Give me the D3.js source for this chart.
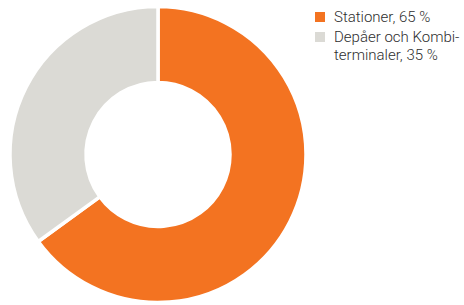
<!DOCTYPE html>
<html>
<head>
<meta charset="utf-8">
<script src="https://cdn.jsdelivr.net/npm/d3@7"></script>
<style>
  body { margin: 0; background: white; }
  .legend text { font-family: Roboto, "Liberation Sans", sans-serif; font-size: 15px; font-weight: 300; fill: #2e2e2e; }
</style>
</head>
<body>
<div id="chart"></div>
<script>
// Andel per typ av anläggning
const categories = ["Stationer", "Depåer och Kombiterminaler"];
const values = [65, 35];
const legendLines = [["Stationer, 65 %"], ["Depåer och Kombi-", "terminaler, 35 %"]];
const colors = ["#f37321", "#dbdad5"];

let svg = d3.select("#chart").append("svg")
  .attr("width", 464)
  .attr("height", 305);

let center = { x: 158, y: 154.5 };
let outer = 148, inner = 72;

let pie = d3.pie().sort(null).value(d => d);
let arc = d3.arc().innerRadius(inner).outerRadius(outer);

let donut = svg.append("g")
  .attr("transform", "translate(" + center.x + "," + center.y + ")");

donut.selectAll("path")
  .data(pie(values))
  .enter().append("path")
    .attr("d", arc)
    .attr("fill", (d, i) => colors[i])
    .attr("stroke", "white")
    .attr("stroke-width", 3.5);

// Legend
let legend = svg.append("g").attr("class", "legend");
let rowY = [12, 32];

categories.forEach((c, i) => {
  legend.append("rect")
    .attr("x", 315)
    .attr("y", rowY[i])
    .attr("width", 10)
    .attr("height", 10)
    .attr("fill", colors[i]);
  legendLines[i].forEach((line, j) => {
    legend.append("text")
      .attr("x", 334)
      .attr("y", rowY[i] + 10 + j * 17.5)
      .text(line);
  });
});
</script>
</body>
</html>
